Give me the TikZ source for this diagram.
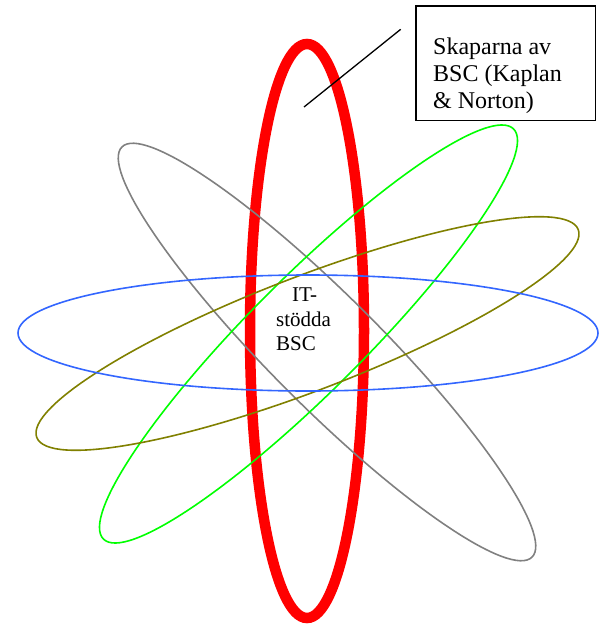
\documentclass[tikz,border=0pt]{standalone}
\usepackage{fontspec}
\setmainfont{Liberation Serif}
\usepackage{xcolor}
\definecolor{orbitred}{RGB}{255,0,0}
\definecolor{orbitblue}{RGB}{51,102,255}
\definecolor{orbitgreen}{RGB}{0,255,0}
\definecolor{orbitolive}{RGB}{128,128,0}
\definecolor{orbitgray}{RGB}{128,128,128}
\usetikzlibrary{positioning}

\begin{document}
\begin{tikzpicture}[x=1pt, y=-1pt,
  orbit/.style={line width=1.6pt},
  plainlabel/.style={anchor=north west, inner sep=0pt, align=left}]
  \useasboundingbox (0,0) rectangle (605,624);

  %% Orbits
  \draw[orbitred, line width=10.5pt] (307,331) ellipse [x radius=57pt, y radius=287pt];
  \draw[orbit, orbitgray,  shift={(327,352)}, rotate=-45] (0,0) ellipse [x radius=290pt, y radius=55pt];
  \draw[orbit, orbitgreen, shift={(308.5,334)}, rotate=45] (0,0) ellipse [x radius=290pt, y radius=57pt];
  \draw[orbit, orbitolive, shift={(307.5,333.5)}, rotate=21] (0,0) ellipse [x radius=290pt, y radius=57pt];
  \draw[orbit, orbitblue] (308,333) ellipse [x radius=290pt, y radius=58pt];

  %% Centre label
  \node[plainlabel, font=\fontsize{21}{24.2}\selectfont] (itbsc) at (276,288) {\hspace*{16pt}IT-\\stödda\\BSC};

  %% Callout box
  \node[draw, line width=1.8pt, anchor=north west, outer sep=0pt, inner sep=0pt, minimum width=179.5pt, minimum height=114.5pt] (creatorsbox) at (416,6) {};
  \node[plainlabel, font=\fontsize{24}{27}\selectfont] (creators) at (433,37.6) {Skaparna av\\BSC (Kaplan\\\& Norton)};
  \coordinate (pointer) at (304,107);
  \coordinate (pointerend) at (400.7,29.3);
  \draw[line width=1.3pt] (pointer) -- (pointerend);
\end{tikzpicture}
\end{document}
